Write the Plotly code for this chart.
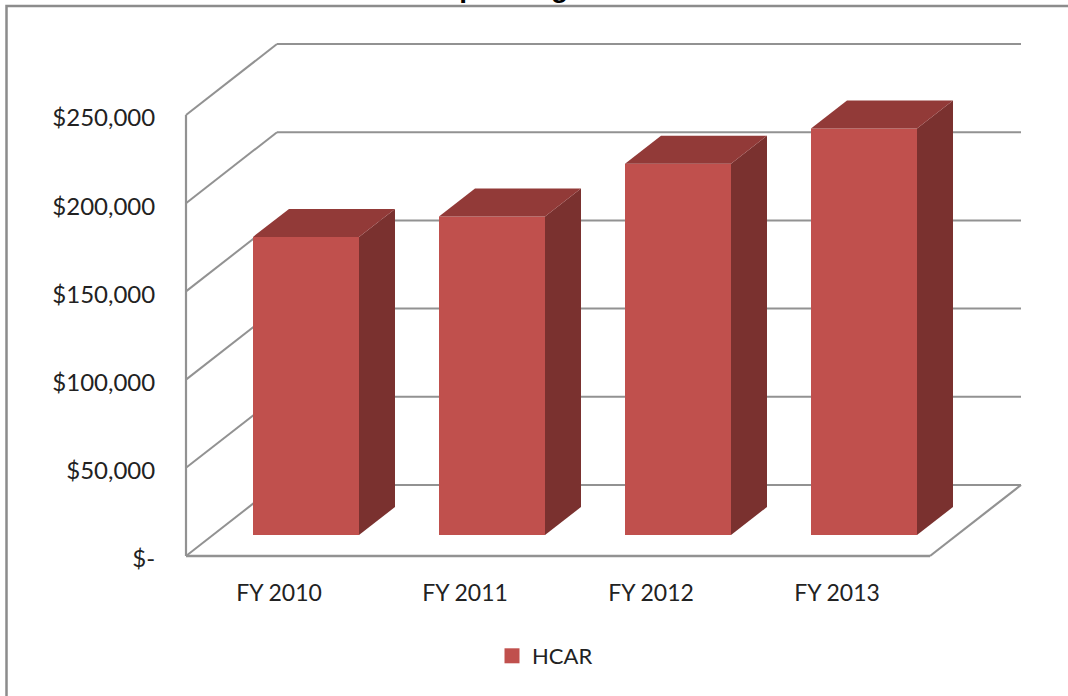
import plotly.graph_objects as go

categories = ["FY 2010", "FY 2011", "FY 2012", "FY 2013"]
hcar = [169000, 180500, 210500, 230500]
tick_vals = [0, 50000, 100000, 150000, 200000, 250000]
tick_text = ["$-", "$50,000", "$100,000", "$150,000", "$200,000", "$250,000"]

W, H = 1068, 696
L, R, T, B = 180, 1032, 30, 562      # plot area in page pixels
Y0 = 556                             # page pixel of $0 on the front edge
X0 = 279; XSTEP = 186                # pixels of category 0 and per category
PX_PER_USD = 441 / 250000
def dx(p): return p / XSTEP
def dy(p): return p / PX_PER_USD

wall_dx, wall_dy = dx(91), dy(71)    # depth of the chart box
bar_dx, bar_dy = dx(36), dy(28)      # depth of a bar
bar_left, bar_w = dx(253 - X0), dx(106)
bar_base = dy(21)                    # bars stand lifted from the floor edge
front_l, front_r = -0.5, 3.5
GRID = "#929292"
FAMILY = "Lato, Carlito, sans-serif"

fig = go.Figure()
xs = list(range(len(categories)))
fig.add_trace(go.Bar(x=xs, y=hcar, base=bar_base, width=bar_w, offset=bar_left,
                     marker=dict(color="#C0504D", line=dict(width=0)), name="HCAR", showlegend=False))
for i, v in enumerate(hcar):
    l = i + bar_left; r = l + bar_w; b = bar_base; t = b + v
    fig.add_trace(go.Scatter(x=[r, r + bar_dx, r + bar_dx, r, r], y=[b, b + bar_dy, t + bar_dy, t, b],
                             mode="lines", fill="toself", fillcolor="#7A312F", line=dict(width=0),
                             showlegend=False, hoverinfo="skip"))
    fig.add_trace(go.Scatter(x=[l, r, r + bar_dx, l + bar_dx, l], y=[t, t, t + bar_dy, t + bar_dy, t],
                             mode="lines", fill="toself", fillcolor="#923A38", line=dict(width=0),
                             showlegend=False, hoverinfo="skip"))
fig.add_trace(go.Scatter(x=[None], y=[None], mode="markers", name="HCAR",
                         marker=dict(symbol="square", size=15, color="#C0504D")))

shapes = []
def seg(x0, y0, x1, y1, w=2):
    shapes.append(dict(type="line", xref="x", yref="y", x0=x0, y0=y0, x1=x1, y1=y1,
                       layer="below", line=dict(color=GRID, width=w)))
for v in tick_vals:
    seg(front_l, v, front_l + wall_dx, v + wall_dy)
    seg(front_l + wall_dx, v + wall_dy, front_r + wall_dx, v + wall_dy)
seg(front_l, 0, front_r, 0, 2.6)
seg(front_r, 0, front_r + wall_dx, wall_dy, 2.2)
seg(front_l, 0, front_l, tick_vals[-1], 2.2)

# outer frame of the picture
shapes.append(dict(type="rect", xref="paper", yref="paper", layer="below",
                   x0=(6.5 - L) / (R - L), x1=(1085 - L) / (R - L),
                   y0=(B - 720) / (B - T), y1=(B - 6) / (B - T),
                   line=dict(color="#8C8C8C", width=2.5), fillcolor="rgba(0,0,0,0)"))

fig.update_layout(
    width=W, height=H, autosize=False, showlegend=True,
    margin=dict(l=L, r=W - R, t=T, b=H - B, pad=0),
    paper_bgcolor="white", plot_bgcolor="white", shapes=shapes,
    font=dict(family=FAMILY, color="#222222", size=24),
    xaxis=dict(range=[(L - X0) / XSTEP, (R - X0) / XSTEP], tickmode="array", tickvals=xs, ticktext=categories,
               showgrid=False, zeroline=False, showline=False, ticks="outside", ticklen=10,
               tickcolor="rgba(0,0,0,0)", tickfont=dict(size=23)),
    yaxis=dict(range=[(Y0 - B) / PX_PER_USD, (Y0 - T) / PX_PER_USD], tickmode="array",
               tickvals=tick_vals, ticktext=tick_text,
               showgrid=False, zeroline=False, showline=False, ticks="outside", ticklen=19,
               tickcolor="rgba(0,0,0,0)", tickfont=dict(size=24), ticklabelshift=3),
    legend=dict(x=(492 - L) / (R - L), y=(B - 635) / (B - T), xanchor="left", yanchor="top",
                font=dict(size=22), bgcolor="rgba(0,0,0,0)", itemwidth=30, itemsizing="trace"),
    annotations=[dict(text="<b>HCAR Spending</b>", xref="paper", yref="paper", showarrow=False,
                      x=(460 - L) / (R - L), y=(B - (-12)) / (B - T), xanchor="center", yanchor="middle",
                      font=dict(family="Liberation Sans, sans-serif", size=28, color="black"))],
)
fig.write_html("out.html", config=dict(displayModeBar=False),
               post_script="document.body.style.margin='0';document.body.style.overflow='hidden';")
